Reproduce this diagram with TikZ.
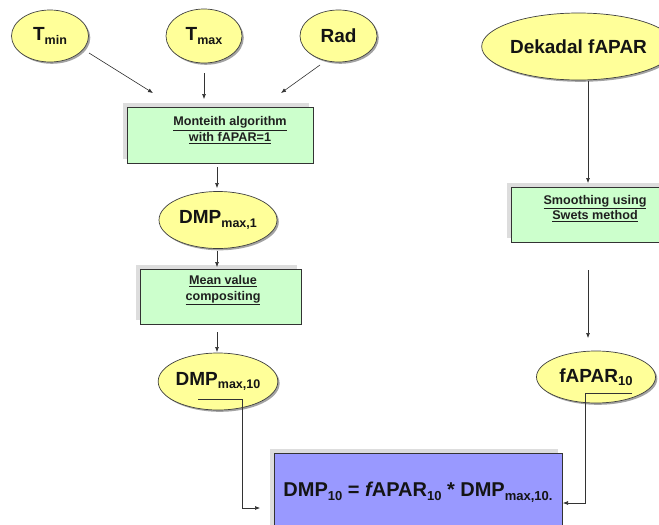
\documentclass[tikz,border=0pt]{standalone}
\usepackage{fontspec}
\setmainfont{Liberation Sans}
\usepackage{graphicx}
\usetikzlibrary{shapes.geometric,arrows.meta,shadows}
\definecolor{ellfill}{HTML}{FFFF99}
\definecolor{boxgreen}{HTML}{CCFFCC}
\definecolor{boxblue}{HTML}{9999FF}
\newcommand\sbs[1]{\raisebox{-0.18em}{\fontsize{12.5pt}{12.5pt}\selectfont #1}}
\newcommand\sbr[1]{\raisebox{-0.18em}{\fontsize{13pt}{13pt}\selectfont #1}}
\tikzset{
  ell/.style={ellipse, draw=black!75, line width=0.7pt, fill=ellfill, inner sep=0pt,
    font=\fontsize{19pt}{19pt}\selectfont\bfseries, text=black!92,
    drop shadow={shadow xshift=1.8pt, shadow yshift=-1.8pt, fill=black!65, opacity=0.55}},
  gbox/.style={rectangle, draw=black!80, line width=0.7pt, fill=boxgreen, inner sep=0pt,
    general shadow={shadow xshift=-4pt, shadow yshift=4pt, fill=black!22, opacity=0.6}},
  rbox/.style={rectangle, draw=black!80, line width=0.7pt, fill=boxblue, inner sep=0pt,
    general shadow={shadow xshift=-4pt, shadow yshift=4pt, fill=black!22, opacity=0.6}},
  btxt/.style={font=\fontsize{12.6pt}{15.5pt}\selectfont\bfseries, align=center, text=black!88, inner sep=0pt},
  arr/.style={draw=black!80, line width=0.6pt, -{Latex[length=5pt,width=4pt]}},
}
\begin{document}
\begin{tikzpicture}[x=1pt,y=-1pt]
\clip (0,0) rectangle (659,525);
\fill[white] (0,0) rectangle (659,525);

% input ellipses
\node[ell, minimum width=77pt, minimum height=52pt] (tmin) at (50,36) {T\sbs{min}};
\node[ell, minimum width=76pt, minimum height=54pt] (tmax) at (204,36) {T\sbs{max}};
\node[ell, minimum width=77pt, minimum height=52pt] (rad) at (338.5,36) {Rad};
\node[ell, minimum width=161pt, minimum height=67pt] (dek) at (578.5,46.5) {Dekadal fAPAR};

% left column
\node[gbox, minimum width=186pt, minimum height=56pt] (mont) at (220,135) {};
\node[btxt] (montt) at (230,130) {\underline{Monteith algorithm}\\\underline{with fAPAR=1}};

\node[ell, minimum width=118pt, minimum height=57pt] (dmp1) at (218,220) {DMP\sbs{max,1}};

\node[gbox, minimum width=161pt, minimum height=55pt] (mean) at (220.5,296.5) {};
\node[btxt] (meant) at (223,290.5) {\underline{Mean value}\\\underline{compositing}};

\node[ell, minimum width=118pt, minimum height=57pt] (dmp10) at (218,381.5) {DMP\sbs{max,10}};

% right column
\node[gbox, minimum width=170pt, minimum height=55pt] (smooth) at (596,214.5) {};
\node[btxt] (smootht) at (595,208.5) {\underline{Smoothing using}\\\underline{Swets method}};

\node[ell, minimum width=119pt, minimum height=52pt] (fap10) at (596,377) {fAPAR\sbr{10}};

% result
\node[rbox, minimum width=288pt, minimum height=90pt] (res) at (418,498) {};
\node[font=\fontsize{20pt}{20pt}\selectfont\bfseries, text=black!92, inner sep=0pt] (rest) at (418,492.5)
  {DMP\sbr{10} = {\itshape f}APAR\sbr{10} * DMP\sbr{max,10.}};

% connector end points
\coordinate (a1s) at (89,53);  \coordinate (a1e) at (153,93);
\coordinate (a2s) at (204,73); \coordinate (a2e) at (204,99);
\coordinate (a3s) at (320,65); \coordinate (a3e) at (281,93);
\coordinate (b1s) at (217,167); \coordinate (b1e) at (217,188);
\coordinate (b2s) at (217,251); \coordinate (b2e) at (217,267);
\coordinate (b3s) at (217,332); \coordinate (b3e) at (217,352);
\coordinate (c1s) at (588,81);  \coordinate (c1e) at (588,183);
\coordinate (c2s) at (588,270); \coordinate (c2e) at (588,338);
\coordinate (d1s) at (198,399); \coordinate (d1m) at (242,399); \coordinate (d1n) at (242,508); \coordinate (d1e) at (260,508);
\coordinate (d2s) at (632,393); \coordinate (d2m) at (585,393); \coordinate (d2n) at (585,503); \coordinate (d2e) at (563,503);

\draw[arr] (a1s) -- (a1e);
\draw[arr] (a2s) -- (a2e);
\draw[arr] (a3s) -- (a3e);
\draw[arr] (b1s) -- (b1e);
\draw[arr] (b2s) -- (b2e);
\draw[arr] (b3s) -- (b3e);
\draw[arr] (c1s) -- (c1e);
\draw[arr] (c2s) -- (c2e);
\draw[arr] (d1s) -- (d1m) -- (d1n) -- (d1e);
\draw[arr] (d2s) -- (d2m) -- (d2n) -- (d2e);
\end{tikzpicture}
\end{document}
